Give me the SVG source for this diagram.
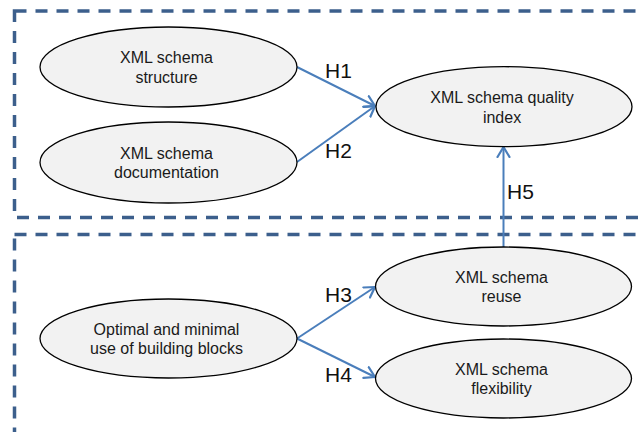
<svg xmlns="http://www.w3.org/2000/svg" width="638" height="432" viewBox="0 0 638 432">
<style>
.box{fill:none;stroke:#3C5F8C;stroke-width:3.5;stroke-dasharray:12 9}
.node ellipse{fill:#F2F2F2;stroke:#000;stroke-width:1.3}
.node text{font-family:"Liberation Sans",Arial,sans-serif;font-size:16px;fill:#1a1a1a;text-anchor:middle}
.conn line{stroke:#4A7EBB;stroke-width:2;marker-end:url(#arr)}
.lbl{font-family:"Liberation Sans",Arial,sans-serif;font-size:21px;fill:#111}
</style>
<defs>
<marker id="arr" markerUnits="userSpaceOnUse" markerWidth="16" markerHeight="16" refX="11" refY="7" orient="auto" viewBox="0 0 16 14">
<path d="M1,1 L11,7 L1,13" fill="none" stroke="#4A7EBB" stroke-width="2.2" stroke-linecap="round" stroke-linejoin="round"/>
</marker>
</defs>
<rect class="box" x="14.5" y="11" width="660" height="206.5"/>
<rect class="box" x="14.5" y="234.5" width="660" height="230"/>
<g id="connectors" class="conn">
<line x1="297" y1="67" x2="375" y2="106"/>
<line x1="297" y1="162" x2="375" y2="106"/>
<line x1="503.5" y1="247" x2="503.5" y2="147"/>
<line x1="297" y1="338.5" x2="375" y2="287"/>
<line x1="297" y1="338.5" x2="375" y2="377"/>
</g>
<g id="labels">
<text class="lbl" x="325" y="78">H1</text>
<text class="lbl" x="325" y="158">H2</text>
<text class="lbl" x="507" y="199">H5</text>
<text class="lbl" x="325" y="302">H3</text>
<text class="lbl" x="325" y="382">H4</text>
</g>
<g id="structure" class="node">
<ellipse cx="168.5" cy="67" rx="128.5" ry="40"/>
<text x="166.5" y="63">XML schema</text>
<text x="166.5" y="82.5">structure</text>
</g>
<g id="documentation" class="node">
<ellipse cx="168.5" cy="162.5" rx="128.5" ry="40.5"/>
<text x="166.5" y="159">XML schema</text>
<text x="166.5" y="178">documentation</text>
</g>
<g id="quality" class="node">
<ellipse cx="504" cy="106.7" rx="128" ry="40"/>
<text x="502" y="103">XML schema quality</text>
<text x="502" y="122.5">index</text>
</g>
<g id="reuse" class="node">
<ellipse cx="503.5" cy="286.5" rx="128" ry="39.5"/>
<text x="501.5" y="282.5">XML schema</text>
<text x="501.5" y="302">reuse</text>
</g>
<g id="flexibility" class="node">
<ellipse cx="503.5" cy="378.5" rx="128" ry="39.5"/>
<text x="501.5" y="374.5">XML schema</text>
<text x="501.5" y="394">flexibility</text>
</g>
<g id="optimal" class="node">
<ellipse cx="168.5" cy="338.5" rx="128.5" ry="39.5"/>
<text x="166.5" y="334.5">Optimal and minimal</text>
<text x="166.5" y="354">use of building blocks</text>
</g>
</svg>
